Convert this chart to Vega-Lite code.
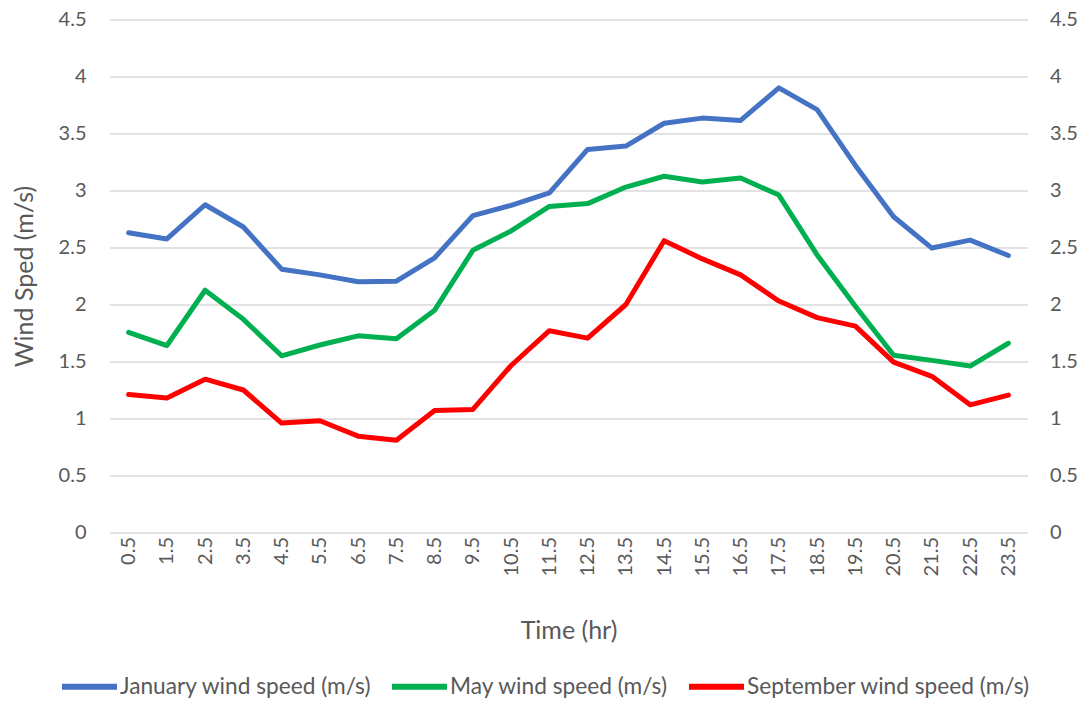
{
  "$schema": "https://vega.github.io/schema/vega-lite/v6.json",
  "width": 918,
  "height": 513,
  "autosize": {"type": "none"},
  "padding": {"left": 109.5, "top": 19.5, "right": 63.5, "bottom": 168.5},
  "background": "white",
  "config": {
    "view": {"stroke": null},
    "font": "Lato",
    "axis": {
      "labelFont": "Lato", "titleFont": "Lato", "labelColor": "#595959", "titleColor": "#595959",
      "titleFontWeight": "normal", "labelFontSize": 20, "titleFontSize": 25,
      "domain": false, "ticks": false, "tickSize": 0, "gridColor": "#D9D9D9", "gridWidth": 1.5
    },
    "legend": {"labelFont": "Lato", "labelColor": "#595959", "labelFontSize": 22.7, "labelLimit": 0}
  },
  "data": {"values": [
    {"hour": 0.5, "series": "January wind speed (m/s)", "value": 2.63},
    {"hour": 1.5, "series": "January wind speed (m/s)", "value": 2.575},
    {"hour": 2.5, "series": "January wind speed (m/s)", "value": 2.875},
    {"hour": 3.5, "series": "January wind speed (m/s)", "value": 2.68},
    {"hour": 4.5, "series": "January wind speed (m/s)", "value": 2.31},
    {"hour": 5.5, "series": "January wind speed (m/s)", "value": 2.26},
    {"hour": 6.5, "series": "January wind speed (m/s)", "value": 2.2},
    {"hour": 7.5, "series": "January wind speed (m/s)", "value": 2.205},
    {"hour": 8.5, "series": "January wind speed (m/s)", "value": 2.41},
    {"hour": 9.5, "series": "January wind speed (m/s)", "value": 2.78},
    {"hour": 10.5, "series": "January wind speed (m/s)", "value": 2.87},
    {"hour": 11.5, "series": "January wind speed (m/s)", "value": 2.98},
    {"hour": 12.5, "series": "January wind speed (m/s)", "value": 3.36},
    {"hour": 13.5, "series": "January wind speed (m/s)", "value": 3.39},
    {"hour": 14.5, "series": "January wind speed (m/s)", "value": 3.59},
    {"hour": 15.5, "series": "January wind speed (m/s)", "value": 3.635},
    {"hour": 16.5, "series": "January wind speed (m/s)", "value": 3.615},
    {"hour": 17.5, "series": "January wind speed (m/s)", "value": 3.9},
    {"hour": 18.5, "series": "January wind speed (m/s)", "value": 3.71},
    {"hour": 19.5, "series": "January wind speed (m/s)", "value": 3.22},
    {"hour": 20.5, "series": "January wind speed (m/s)", "value": 2.77},
    {"hour": 21.5, "series": "January wind speed (m/s)", "value": 2.495},
    {"hour": 22.5, "series": "January wind speed (m/s)", "value": 2.565},
    {"hour": 23.5, "series": "January wind speed (m/s)", "value": 2.43},
    {"hour": 0.5, "series": "May wind speed (m/s)", "value": 1.755},
    {"hour": 1.5, "series": "May wind speed (m/s)", "value": 1.64},
    {"hour": 2.5, "series": "May wind speed (m/s)", "value": 2.125},
    {"hour": 3.5, "series": "May wind speed (m/s)", "value": 1.87},
    {"hour": 4.5, "series": "May wind speed (m/s)", "value": 1.55},
    {"hour": 5.5, "series": "May wind speed (m/s)", "value": 1.645},
    {"hour": 6.5, "series": "May wind speed (m/s)", "value": 1.725},
    {"hour": 7.5, "series": "May wind speed (m/s)", "value": 1.7},
    {"hour": 8.5, "series": "May wind speed (m/s)", "value": 1.95},
    {"hour": 9.5, "series": "May wind speed (m/s)", "value": 2.475},
    {"hour": 10.5, "series": "May wind speed (m/s)", "value": 2.645},
    {"hour": 11.5, "series": "May wind speed (m/s)", "value": 2.86},
    {"hour": 12.5, "series": "May wind speed (m/s)", "value": 2.885},
    {"hour": 13.5, "series": "May wind speed (m/s)", "value": 3.03},
    {"hour": 14.5, "series": "May wind speed (m/s)", "value": 3.125},
    {"hour": 15.5, "series": "May wind speed (m/s)", "value": 3.075},
    {"hour": 16.5, "series": "May wind speed (m/s)", "value": 3.11},
    {"hour": 17.5, "series": "May wind speed (m/s)", "value": 2.96},
    {"hour": 18.5, "series": "May wind speed (m/s)", "value": 2.435},
    {"hour": 19.5, "series": "May wind speed (m/s)", "value": 1.985},
    {"hour": 20.5, "series": "May wind speed (m/s)", "value": 1.555},
    {"hour": 21.5, "series": "May wind speed (m/s)", "value": 1.51},
    {"hour": 22.5, "series": "May wind speed (m/s)", "value": 1.46},
    {"hour": 23.5, "series": "May wind speed (m/s)", "value": 1.66},
    {"hour": 0.5, "series": "September wind speed (m/s)", "value": 1.21},
    {"hour": 1.5, "series": "September wind speed (m/s)", "value": 1.18},
    {"hour": 2.5, "series": "September wind speed (m/s)", "value": 1.345},
    {"hour": 3.5, "series": "September wind speed (m/s)", "value": 1.25},
    {"hour": 4.5, "series": "September wind speed (m/s)", "value": 0.96},
    {"hour": 5.5, "series": "September wind speed (m/s)", "value": 0.98},
    {"hour": 6.5, "series": "September wind speed (m/s)", "value": 0.845},
    {"hour": 7.5, "series": "September wind speed (m/s)", "value": 0.81},
    {"hour": 8.5, "series": "September wind speed (m/s)", "value": 1.07},
    {"hour": 9.5, "series": "September wind speed (m/s)", "value": 1.08},
    {"hour": 10.5, "series": "September wind speed (m/s)", "value": 1.465},
    {"hour": 11.5, "series": "September wind speed (m/s)", "value": 1.77},
    {"hour": 12.5, "series": "September wind speed (m/s)", "value": 1.705},
    {"hour": 13.5, "series": "September wind speed (m/s)", "value": 2.0},
    {"hour": 14.5, "series": "September wind speed (m/s)", "value": 2.56},
    {"hour": 15.5, "series": "September wind speed (m/s)", "value": 2.4},
    {"hour": 16.5, "series": "September wind speed (m/s)", "value": 2.26},
    {"hour": 17.5, "series": "September wind speed (m/s)", "value": 2.03},
    {"hour": 18.5, "series": "September wind speed (m/s)", "value": 1.885},
    {"hour": 19.5, "series": "September wind speed (m/s)", "value": 1.81},
    {"hour": 20.5, "series": "September wind speed (m/s)", "value": 1.495},
    {"hour": 21.5, "series": "September wind speed (m/s)", "value": 1.37},
    {"hour": 22.5, "series": "September wind speed (m/s)", "value": 1.12},
    {"hour": 23.5, "series": "September wind speed (m/s)", "value": 1.205}
  ]},
  "encoding": {
    "x": {
      "field": "hour", "type": "ordinal",
      "axis": {"title": "Time (hr)", "labelAngle": -90, "labelPadding": 4, "titlePadding": 42, "grid": false}
    }
  },
  "layer": [
    {
      "mark": {"type": "line", "strokeWidth": 5, "strokeJoin": "round", "strokeCap": "round"},
      "encoding": {
        "y": {
          "field": "value", "type": "quantitative",
          "scale": {"domain": [0, 4.5], "nice": false},
          "axis": {"title": "Wind Sped (m/s)", "orient": "left", "values": [0, 0.5, 1, 1.5, 2, 2.5, 3, 3.5, 4, 4.5], "format": "~g", "labelPadding": 23.5, "titlePadding": 21, "grid": true}
        },
        "color": {
          "field": "series", "type": "nominal",
          "scale": {
            "domain": ["January wind speed (m/s)", "May wind speed (m/s)", "September wind speed (m/s)"],
            "range": ["#4472C4", "#00B050", "#FF0000"]
          },
          "legend": {
            "title": null, "orient": "none", "direction": "horizontal", "legendX": -50.5, "legendY": 636.5,
            "symbolType": "stroke", "symbolSize": 3025, "symbolStrokeWidth": 6, "labelOffset": 0, "columnPadding": 8
          }
        }
      }
    },
    {
      "mark": {"type": "line", "strokeOpacity": 0},
      "encoding": {
        "detail": {"field": "series"},
        "y": {
          "field": "value", "type": "quantitative",
          "scale": {"domain": [0, 4.5], "nice": false},
          "axis": {"title": null, "orient": "right", "values": [0, 0.5, 1, 1.5, 2, 2.5, 3, 3.5, 4, 4.5], "format": "~g", "labelPadding": 22, "grid": false}
        }
      }
    }
  ],
  "resolve": {"axis": {"y": "independent"}}
}
